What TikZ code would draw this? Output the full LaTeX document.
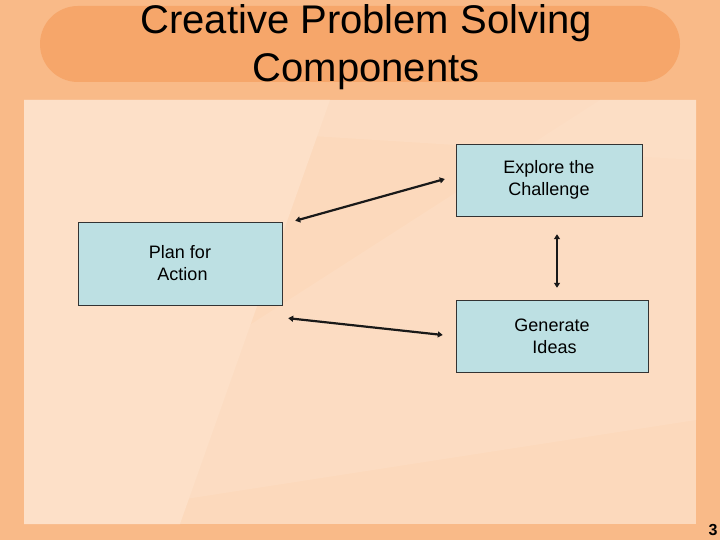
\documentclass[tikz,border=0pt]{standalone}
\usepackage{fontspec}
\setmainfont{Liberation Sans}
\usetikzlibrary{arrows.meta}

\definecolor{outerbg}{HTML}{F9BA88}
\definecolor{titleblob}{HTML}{F6A66A}
\definecolor{panelbg}{HTML}{FCD9BC}
\definecolor{panellight}{HTML}{FDE0C8}
\definecolor{boxfill}{HTML}{BDE0E3}

\begin{document}
\begin{tikzpicture}[x=1pt,y=-1pt]
    \tikzset{comp/.style = {shape=rectangle,draw=black!80,fill=boxfill,align=center,
                            font=\fontsize{18}{22}\selectfont,inner sep=0pt}}
    \tikzset{link/.style = {{Triangle[length=5pt,width=6pt]}-{Triangle[length=5pt,width=6pt]}, line width=2.2pt, black!90}}
    \useasboundingbox (0,0) rectangle (720,540);

    % slide background
    \fill[outerbg] (0,0) rectangle (720,540);
    \fill[titleblob, rounded corners=38pt] (40,6) rectangle (680,82);
    \fill[panelbg] (24,100) rectangle (696,524);
    \fill[panellight] (24,100) -- (330,100) -- (180,524) -- (24,524) -- cycle;
    \fill[panellight, opacity=0.5] (24,100) -- (696,100) -- (696,160) -- (24,118) -- cycle;
    \fill[panellight, opacity=0.5] (24,524) -- (696,420) -- (696,100) -- (600,100) -- (24,470) -- cycle;

    % title
    \node[font=\fontsize{40}{48}\selectfont, align=center, text=black] (title) at (366,47)
        {Creative Problem Solving\\Components};

    % components
    \node[comp, minimum width=186pt, minimum height=72pt] (explore) at (549,180) {Explore the\\Challenge};
    \node[comp, minimum width=204pt, minimum height=83pt] (plan) at (180,263.5) {Plan for\\\ Action};
    \node[comp, minimum width=192pt, minimum height=72pt] (generate) at (552,336) {Generate\\\ Ideas};

    % connectors
    \draw[link] ([shift={(13,-1)}]plan.north east) -- ([shift={(-11,-1)}]explore.west);
    \draw[link] ([shift={(8,18)}]explore.south) -- ([shift={(5,-12)}]generate.north);
    \draw[link] ([shift={(6,13)}]plan.south east) -- ([shift={(-13,-1)}]generate.west);

    % page number
    \node[font=\fontsize{16}{18}\selectfont\bfseries] (pagenum) at (713,530) {3};
\end{tikzpicture}
\end{document}
